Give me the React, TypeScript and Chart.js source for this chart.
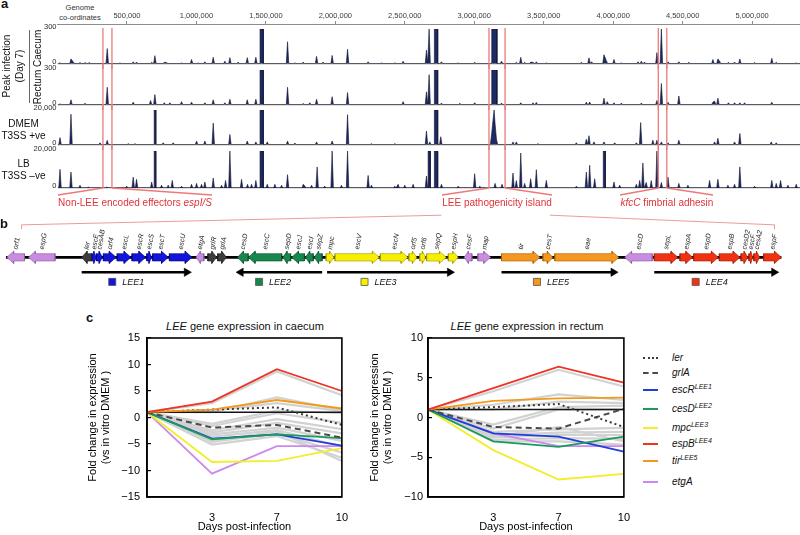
import React, { useEffect, useRef } from 'react';
import { Chart, registerables } from 'chart.js';

Chart.register(...registerables);

const FONT = "'Liberation Sans', Arial, Helvetica, sans-serif";
Chart.defaults.font.family = FONT;
Chart.defaults.color = '#111';

/* ================= Panel a : genome coverage ================= */
const GENOME_LENGTH_KB = 5345;
const genomeTickKb = [500, 1000, 1500, 2000, 2500, 3000, 3500, 4000, 4500, 5000];
const trackMax = [300, 300, 20000, 20000];

// [position kb, coverage]
const caecumPeaks = [
  [18, 6], [97, 40], [114, 12], [162, 8], [198, 8], [229, 8], [358, 130], [450, 5], [545, 15], [569, 12],
  [678, 10], [701, 68], [769, 10], [785, 8], [893, 5], [965, 35], [1013, 5], [1061, 15], [1121, 54], [1205, 20],
  [1241, 51], [1301, 12], [1366, 51], [1428, 54], [1656, 189], [1709, 5], [1769, 12], [1865, 62], [1912, 12], [1977, 70],
  [2088, 124], [2236, 15], [2332, 5], [2428, 5], [2488, 20], [2656, 116], [2675, 300], [2764, 15], [2884, 5], [3003, 10],
  [3196, 20], [3303, 10], [3335, 54], [3363, 10], [3406, 12], [3423, 10], [3447, 15], [3519, 5], [3771, 10], [3826, 49],
  [3845, 15], [3934, 76], [3951, 25], [4006, 35], [4059, 5], [4179, 15], [4203, 20], [4226, 12], [4315, 95], [4347, 300],
  [4395, 15], [4473, 15], [4545, 10], [4718, 35], [4754, 40], [4766, 20], [4830, 10], [4874, 12], [4912, 40], [5018, 8],
  [5142, 45], [5174, 10], [5318, 5],
];
const caecumSaturated = [[1458, 1482], [2713, 2737], [3126, 3164]];

const rectumPeaks = [
  [18, 5], [97, 41], [198, 10], [358, 150], [545, 20], [670, 35], [701, 87], [769, 15], [809, 15], [893, 25],
  [965, 20], [1061, 15], [1121, 41], [1205, 15], [1241, 46], [1366, 41], [1428, 46], [1656, 150], [1769, 8], [1816, 15],
  [1865, 46], [1977, 68], [2088, 104], [2488, 25], [2656, 110], [2675, 259], [2764, 12], [2896, 10], [3003, 15], [3196, 12],
  [3335, 15], [3423, 15], [3447, 18], [3807, 20], [3831, 22], [3934, 55], [3958, 25], [4006, 15], [4059, 12], [4203, 12],
  [4315, 35], [4347, 183], [4395, 20], [4473, 74], [4718, 20], [4730, 30], [4754, 55], [4830, 15], [4874, 15], [4912, 15],
  [4946, 15], [5142, 20],
];
const rectumSaturated = [[1458, 1482], [2713, 2737], [3126, 3164]];

const dmemPeaks = [
  [18, 4000], [97, 17600], [306, 1000], [358, 2400], [510, 500], [558, 500], [761, 1000], [833, 1000], [1001, 2000], [1061, 2000],
  [1121, 12400], [1241, 5800], [1366, 2000], [1428, 1500], [1510, 1500], [1656, 2000], [1709, 800], [1865, 1500], [1977, 2000], [2088, 17300],
  [2260, 500], [2428, 500], [2656, 7800], [2680, 1500], [2759, 4500], [3125, 6000], [3135, 14000], [3143, 20000], [3150, 12000], [3160, 3000],
  [3279, 1500], [3303, 1500], [3459, 500], [3735, 1000], [3807, 3100], [3826, 5100], [3862, 1500], [3934, 1500], [4011, 1000], [4167, 1000],
  [4198, 12700], [4286, 2500], [4315, 2500], [4347, 1500], [4395, 1000], [4473, 2500], [4730, 1500], [4754, 3600], [4874, 1500], [4912, 6400],
  [5138, 1500], [5174, 1000],
];
const dmemSaturated = [[696, 708], [1458, 1482], [2713, 2737]];

const lbPeaks = [
  [18, 10100], [97, 8600], [162, 1500], [222, 500], [354, 500], [498, 1000], [545, 5900], [569, 4700], [678, 3200], [749, 1500],
  [797, 1500], [826, 4100], [893, 1000], [965, 2000], [1001, 2500], [1037, 2000], [1061, 3200], [1121, 5400], [1181, 1500], [1210, 4100],
  [1241, 20000], [1325, 4700], [1368, 2000], [1397, 2000], [1428, 4100], [1510, 2000], [1565, 2000], [1613, 1500], [1656, 7200], [1769, 2000],
  [1781, 1000], [1829, 1500], [1869, 11400], [1924, 1000], [1977, 20000], [2044, 1500], [2088, 20000], [2236, 6800], [2260, 1500], [2428, 1000],
  [2452, 2000], [2500, 1500], [2560, 2000], [2656, 6500], [2764, 2000], [2884, 1000], [3003, 7700], [3040, 1000], [3150, 2500], [3200, 2000],
  [3279, 8100], [3303, 4000], [3335, 18900], [3363, 2500], [3406, 5000], [3447, 9900], [3519, 4100], [3735, 1000], [3807, 8600], [3831, 12300],
  [3867, 5000], [4006, 3200], [4047, 1500], [4167, 2000], [4191, 4100], [4214, 13500], [4238, 3000], [4274, 4000], [4315, 20000], [4347, 3000],
  [4395, 5900], [4473, 2500], [4538, 1500], [4694, 4100], [4754, 4700], [4826, 1500], [4874, 2000], [4912, 11400], [5018, 1000], [5142, 4100],
  [5174, 2500], [5205, 4100], [5258, 1500], [5318, 2000],
];
const lbSaturated = [[696, 708], [1458, 1482], [2668, 2684], [2713, 2737], [3929, 3944]];

const regionStartKb = [327, 3106, 4325];
const regionEndKb = [392, 3222, 4386];

/* ================= Panel b : LEE gene map ================= */
const geneNames = ['orf1', 'espG', 'ler', 'escE', 'cesAB', 'orf4', 'escL', 'escR', 'escS', 'escT', 'escU', 'etgA', 'grlR', 'grlA',
  'cesD', 'escC', 'sepD', 'escJ', 'escI', 'sepZ', 'mpc', 'escV', 'escN', 'orf5', 'orf6', 'sepQ', 'espH', 'cesF', 'map',
  'tir', 'cesT', 'eae', 'escD', 'sepL', 'espA', 'espD', 'espB', 'cesD2', 'escF', 'cesA2', 'espF'];
const geneStart = [1, 23, 77, 87, 92, 99, 113, 128, 143, 149, 166, 193, 205, 215, 235, 246, 281, 290, 304, 313, 325, 334, 380, 409, 420,
  427, 449, 465, 479, 503, 545, 557, 628, 658, 684, 698, 724, 746, 754, 759, 769];
const geneEnd = [19, 50, 87, 92, 98, 112, 127, 142, 148, 165, 189, 201, 214, 224, 246, 280, 289, 303, 312, 321, 333, 379, 408, 417, 426,
  447, 459, 473, 492, 542, 555, 622, 656, 682, 697, 723, 745, 753, 758, 765, 787];
const geneStrand = [-1, -1, -1, 1, 1, 1, 1, 1, 1, 1, 1, -1, 1, 1, -1, -1, -1, -1, -1, -1, 1, 1, 1, 1, 1, 1, 1, -1, 1, 1, 1, 1, -1,
  1, 1, 1, 1, 1, 1, 1, 1];
const geneGroup = ['other', 'other', 'reg', 'LEE1', 'LEE1', 'LEE1', 'LEE1', 'LEE1', 'LEE1', 'LEE1', 'LEE1', 'other', 'reg', 'reg',
  'LEE2', 'LEE2', 'LEE2', 'LEE2', 'LEE2', 'LEE2', 'LEE3', 'LEE3', 'LEE3', 'LEE3', 'LEE3', 'LEE3', 'LEE3', 'other', 'other',
  'LEE5', 'LEE5', 'LEE5', 'other', 'LEE4', 'LEE4', 'LEE4', 'LEE4', 'LEE4', 'LEE4', 'LEE4', 'LEE4'];

const operonNames = ['LEE1', 'LEE2', 'LEE3', 'LEE5', 'LEE4'];
const operonFrom = [77, 321, 326, 503, 658];
const operonTo = [188, 234, 455, 621, 784];

/* ================= Panel c : qPCR fold change ================= */
const dayLabels = ['', '3', '7', '10'];

const caecumLer = [1, 1.5, 1.9, -1.4];
const caecumGrlA = [1, -1.9, -1.4, -3.8];
const caecumEscR = [1, -4.0, -3.2, -5.3];
const caecumCesD = [1, -4.1, -3.2, -3.9];
const caecumMpc = [1, -8.4, -8.2, -5.8];
const caecumEspB = [1, 3.0, 9.1, 5.0];
const caecumTir = [1, 1.5, 3.3, 1.7];
const caecumEtgA = [1, -10.6, -5.4, -5.4];
const caecumOtherGenes = [
  [1, 2.7, 8.7, 4.2], [1, 1.0, 3.8, 1.4], [1, 1.3, 2.7, 1.2], [1, -1.2, 1.3, 0.8], [1, -1.6, 0.8, -1.0],
  [1, -2.4, -0.3, -2.2], [1, -2.8, -1.0, -3.0], [1, -3.2, -1.9, -4.4], [1, -3.6, -2.4, -5.5], [1, -4.6, -3.0, -6.6],
  [1, -5.1, -3.5, -7.6], [1, -4.4, -2.6, -8.2],
];

const rectumLer = [1, 1.3, 1.7, -1.2];
const rectumGrlA = [1, -1.2, -1.4, 1.1];
const rectumEscR = [1, -2.0, -2.4, -4.3];
const rectumCesD = [1, -3.0, -3.7, -2.4];
const rectumMpc = [1, -4.1, -7.8, -7.1];
const rectumEspB = [1, 3.7, 6.4, 4.4];
const rectumTir = [1, 2.1, 2.4, 2.5];
const rectumEtgA = [1, -2.0, -3.6, -3.6];
const rectumOtherGenes = [
  [1, 3.3, 6.0, 3.9], [1, 1.6, 2.9, 2.2], [1, 1.0, 2.0, 1.8], [1, -0.9, 1.3, 1.5], [1, -1.4, 1.0, 1.0],
  [1, -1.8, -1.5, -1.3], [1, -2.2, -1.9, -1.8], [1, -2.5, -2.2, -2.2], [1, -2.8, -2.6, -2.7], [1, -3.0, -3.0, -3.4],
  [1, -2.4, -1.2, -3.0],
];
const noChange = [1, 1, 1, 1];

/* ================= styles ================= */
const NAVY = 'rgb(30,42,98)';
const NAVY_EDGE = 'rgb(14,18,48)';
const RED_LINE = 'rgb(236,122,122)';
const RED_TEXT = 'rgb(222,52,56)';

const groupFill: Record<string, string> = {
  other: '#c98ce0', reg: '#3d3d3d', LEE1: '#1313dc', LEE2: '#17874c', LEE3: '#f6f000', LEE5: '#f5961e', LEE4: '#f03212',
};
const groupEdge: Record<string, string> = {
  other: '#8a5a9c', reg: '#1c1c1c', LEE1: '#05057a', LEE2: '#0b4a2a', LEE3: '#9c9600', LEE5: '#a55c00', LEE4: '#9c1c05',
};
const operonFill = ['#1313dc', '#17874c', '#f6f000', '#f5961e', '#f03212'];
const operonLegendX = [108, 257, 364, 539, 700];

const exprStyles = [
  { name: 'espB', color: '#ee3322', dash: [] as number[], width: 1.8 },
  { name: 'tir', color: '#f39a1e', dash: [], width: 1.8 },
  { name: 'ler', color: '#3a3a3a', dash: [2, 3], width: 2 },
  { name: 'grlA', color: '#4a4a4a', dash: [6, 4], width: 2 },
  { name: 'cesD', color: '#1a9a5c', dash: [], width: 1.8 },
  { name: 'escR', color: '#1f3fd8', dash: [], width: 1.8 },
  { name: 'mpc', color: '#f2ee2a', dash: [], width: 1.8 },
  { name: 'etgA', color: '#cc88ee', dash: [], width: 1.8 },
];

const common = {
  animation: false,
  responsive: false,
  maintainAspectRatio: false,
  events: [] as string[],
};
const noLegend = { legend: { display: false }, tooltip: { enabled: false }, title: { display: false } };

/* ================= builders ================= */
function buildProfile(peaks: number[][], saturated: number[][], max: number) {
  const HW = 9;
  const shapes: { x: number; y: number }[][] = [];
  for (const [kb, v] of peaks) shapes.push([{ x: kb - HW, y: 0 }, { x: kb, y: Math.min(v, max) }, { x: kb + HW, y: 0 }]);
  for (const [s, e] of saturated) shapes.push([{ x: s, y: 0 }, { x: s, y: max }, { x: e, y: max }, { x: e, y: 0 }]);
  shapes.sort((a, b) => a[1].x - b[1].x);
  const out = [{ x: 0, y: 0 }];
  for (const sh of shapes) {
    let pts = sh;
    const last = out[out.length - 1];
    if (pts[0].x <= last.x) {
      if (last.y === 0 && out.length > 1) out.pop();
      pts = pts.slice(1);
      while (pts.length && pts[0].x <= out[out.length - 1].x) pts = pts.slice(1);
    }
    out.push(...pts);
  }
  out.push({ x: GENOME_LENGTH_KB, y: 0 });
  return out;
}

function genePolygon(s: number, e: number, strand: number) {
  const h = 4.2, H = 7;
  const L = Math.min(7, (e - s) * 0.55);
  if (strand > 0) {
    return [{ x: s, y: -h }, { x: e - L, y: -h }, { x: e - L, y: -H }, { x: e, y: 0 }, { x: e - L, y: H }, { x: e - L, y: h }, { x: s, y: h }, { x: s, y: -h }];
  }
  return [{ x: e, y: -h }, { x: s + L, y: -h }, { x: s + L, y: -H }, { x: s, y: 0 }, { x: s + L, y: H }, { x: s + L, y: h }, { x: e, y: h }, { x: e, y: -h }];
}

/* ================= chart configs ================= */
function axisConfig() {
  return {
    type: 'line',
    data: { datasets: [] },
    options: {
      ...common,
      plugins: noLegend,
      layout: { padding: { left: 57.5, right: 0, top: 0, bottom: 0 } },
      scales: {
        x: {
          type: 'linear', position: 'top', min: 0, max: GENOME_LENGTH_KB,
          afterBuildTicks: (s: any) => { s.ticks = genomeTickKb.map((v) => ({ value: v })); },
          afterFit: (s: any) => { s.height = 24; },
          ticks: { callback: (v: any) => (Number(v) * 1000).toLocaleString('en-US'), font: { size: 7.5 }, color: '#3a3a3a', padding: 1, maxRotation: 0, autoSkip: false },
          grid: { drawOnChartArea: false, tickLength: 3, color: '#8c8c8c', lineWidth: 1 },
          border: { color: '#8c8c8c', width: 1 },
        },
        y: { display: false },
      },
    },
  };
}

const bracketLabelEnds = [[58, 212], [442, 552], [620, 713]];

function trackConfig(i: number) {
  const peaks = [caecumPeaks, rectumPeaks, dmemPeaks, lbPeaks][i];
  const sat = [caecumSaturated, rectumSaturated, dmemSaturated, lbSaturated][i];
  const max = trackMax[i];
  const regionPlugin = {
    id: 'regions' + i,
    afterDatasetsDraw(chart: any) {
      const { ctx, chartArea } = chart;
      const x = chart.scales.x;
      const y0 = i === 0 ? chartArea.top - 1 : 0;
      const y1 = i === 3 ? chartArea.bottom : chart.height;
      ctx.save();
      ctx.strokeStyle = RED_LINE;
      ctx.lineWidth = 1.3;
      for (let r = 0; r < regionStartKb.length; r++) {
        const ps = x.getPixelForValue(regionStartKb[r]);
        const pe = x.getPixelForValue(regionEndKb[r]);
        ctx.beginPath();
        ctx.moveTo(ps, y0); ctx.lineTo(ps, y1);
        ctx.moveTo(pe, y0); ctx.lineTo(pe, y1);
        ctx.stroke();
        if (i === 3) {
          const yb = chartArea.bottom;
          ctx.beginPath();
          ctx.moveTo(ps, yb); ctx.lineTo(bracketLabelEnds[r][0], yb + 7);
          ctx.moveTo(pe, yb); ctx.lineTo(bracketLabelEnds[r][1], yb + 7);
          ctx.stroke();
        }
      }
      ctx.restore();
    },
  };
  return {
    type: 'line',
    data: {
      datasets: [{
        data: buildProfile(peaks, sat, max), fill: 'origin', backgroundColor: NAVY, borderColor: NAVY_EDGE,
        borderWidth: 0.6, pointRadius: 0, tension: 0,
      }],
    },
    options: {
      ...common,
      plugins: noLegend,
      layout: { padding: { top: 6, bottom: i === 3 ? 12 : 3, left: 0, right: 0 } },
      scales: {
        x: { type: 'linear', min: 0, max: GENOME_LENGTH_KB, display: false },
        y: {
          min: 0, max,
          afterBuildTicks: (s: any) => { s.ticks = [{ value: 0 }, { value: max }]; },
          afterFit: (s: any) => { s.width = 57.5; },
          ticks: { callback: (v: any) => Number(v).toLocaleString('en-US'), font: { size: 7.5 }, color: '#2a2a2a', padding: 1, labelOffset: -2 },
          grid: { drawTicks: false, lineWidth: 1.2, color: (c: any) => (c.tick && c.tick.value === 0 ? '#7a7a7a' : 'rgba(0,0,0,0)') },
          border: { display: false },
        },
      },
    },
    plugins: [regionPlugin],
  };
}

function geneConfig() {
  const datasets: any[] = [];
  geneNames.forEach((n, i) => {
    datasets.push({
      label: n, data: genePolygon(geneStart[i], geneEnd[i], geneStrand[i]), fill: 'shape',
      backgroundColor: groupFill[geneGroup[i]], borderColor: groupEdge[geneGroup[i]], borderWidth: 0.6, pointRadius: 0, tension: 0,
    });
  });
  operonNames.forEach((n, i) => {
    const dir = operonTo[i] > operonFrom[i] ? 1 : -1;
    datasets.push({
      label: n, data: [{ x: operonFrom[i], y: -17 }, { x: operonTo[i] - dir * 4.5, y: -17 }],
      borderColor: '#000', borderWidth: 2.6, pointRadius: [0, 4.8], pointStyle: 'triangle',
      pointRotation: [0, dir > 0 ? 90 : -90], pointBackgroundColor: '#000', pointBorderColor: '#000', pointBorderWidth: 0.5,
    });
    datasets.push({
      label: n + ' key', data: [{ x: operonLegendX[i], y: -28 }], showLine: false, pointStyle: 'rect', pointRadius: 5,
      pointBackgroundColor: operonFill[i], pointBorderColor: '#555', pointBorderWidth: 0.8,
    });
  });
  datasets.push({
    label: 'backbone', data: [{ x: 0, y: 0 }, { x: geneEnd[geneEnd.length - 1], y: 0 }],
    borderColor: '#000', borderWidth: 2.6, pointRadius: 0,
  });
  const labelPlugin = {
    id: 'geneLabels',
    afterDatasetsDraw(chart: any) {
      const { ctx } = chart;
      const x = chart.scales.x;
      const y = chart.scales.y;
      ctx.save();
      ctx.fillStyle = '#222';
      ctx.font = `italic 7px ${FONT}`;
      ctx.textAlign = 'left';
      ctx.textBaseline = 'middle';
      geneNames.forEach((n, i) => {
        const cx = x.getPixelForValue((geneStart[i] + geneEnd[i]) / 2);
        const cy = y.getPixelForValue(9);
        ctx.save();
        ctx.translate(cx, cy);
        ctx.rotate((-80 * Math.PI) / 180);
        ctx.fillText(n, 0, 0);
        ctx.restore();
      });
      ctx.font = `italic 9px ${FONT}`;
      ctx.fillStyle = '#111';
      operonNames.forEach((n, i) => {
        ctx.fillText(n, x.getPixelForValue(operonLegendX[i]) + 10, y.getPixelForValue(-28) + 0.5);
      });
      // connector from the "LEE pathogenicity island" label down to the gene map ends
      ctx.strokeStyle = 'rgba(232,120,120,0.75)';
      ctx.lineWidth = 1;
      const yTop = y.getPixelForValue(48);
      const yEnd = y.getPixelForValue(37);
      const yTick = y.getPixelForValue(32);
      const lx = x.getPixelForValue(16);
      const rx = x.getPixelForValue(780);
      ctx.beginPath();
      ctx.moveTo(x.getPixelForValue(442), yTop); ctx.lineTo(lx, yEnd); ctx.lineTo(lx, yTick);
      ctx.moveTo(x.getPixelForValue(552), yTop); ctx.lineTo(rx, yEnd); ctx.lineTo(rx, yTick);
      ctx.stroke();
      ctx.restore();
    },
  };
  return {
    type: 'line',
    data: { datasets },
    options: {
      ...common,
      plugins: noLegend,
      layout: { padding: 0 },
      scales: {
        x: { type: 'linear', min: 0, max: 800, display: false },
        y: { type: 'linear', min: -42, max: 53, display: false },
      },
    },
    plugins: [labelPlugin],
  };
}

const framePlugin = {
  id: 'frame',
  afterDatasetsDraw(chart: any) {
    const { ctx, chartArea: a } = chart;
    ctx.save();
    ctx.strokeStyle = '#000';
    ctx.lineWidth = 1.6;
    ctx.strokeRect(a.left, a.top, a.right - a.left, a.bottom - a.top);
    ctx.restore();
  },
};

function exprConfig(which: number) {
  const c = which === 0;
  const main = c
    ? [caecumEspB, caecumTir, caecumLer, caecumGrlA, caecumCesD, caecumEscR, caecumMpc, caecumEtgA]
    : [rectumEspB, rectumTir, rectumLer, rectumGrlA, rectumCesD, rectumEscR, rectumMpc, rectumEtgA];
  const others = c ? caecumOtherGenes : rectumOtherGenes;
  const datasets: any[] = main.map((d, i) => ({
    label: exprStyles[i].name, data: d, borderColor: exprStyles[i].color, borderDash: exprStyles[i].dash,
    borderWidth: exprStyles[i].width, pointRadius: 0, tension: 0, fill: false,
  }));
  datasets.push({ label: 'no change', data: noChange, borderColor: '#141414', borderWidth: 1.5, pointRadius: 0, fill: false });
  others.forEach((d, i) => datasets.push({ label: 'other ' + i, data: d, borderColor: '#d2d2d2', borderWidth: 2.2, pointRadius: 0, fill: false }));
  const yTicks = c ? [-15, -10, -5, 0, 5, 10, 15] : [-10, -5, 0, 5, 10];
  return {
    type: 'line',
    data: { labels: dayLabels, datasets },
    options: {
      ...common,
      plugins: noLegend,
      layout: { padding: { top: 20, right: c ? 11 : 10, left: 0, bottom: 0 } },
      scales: {
        x: {
          type: 'category', offset: false,
          grid: { display: false },
          border: { display: true, color: '#000', width: 1.6 },
          ticks: { font: { size: 11 }, color: '#000', padding: 6, maxRotation: 0, autoSkip: false },
          title: { display: true, text: 'Days post-infection', font: { size: 11 }, color: '#000', padding: { top: 0, bottom: 1 } },
          afterFit: (s: any) => { s.height = 38; },
        },
        y: {
          min: yTicks[0], max: yTicks[yTicks.length - 1],
          afterBuildTicks: (s: any) => { s.ticks = yTicks.map((v) => ({ value: v })); },
          ticks: { font: { size: 11 }, color: '#000', padding: c ? 11 : 9, callback: (v: any) => (v < 0 ? '\u2212' + Math.abs(v) : String(v)) },
          grid: { drawOnChartArea: false, tickLength: -4, color: '#000', lineWidth: 1.2 },
          border: { color: '#000', width: 1.6 },
          title: { display: true, text: ['Fold change in expression', '(vs in vitro DMEM )'], font: { size: 11 }, color: '#000', padding: { top: 1, bottom: 0 } },
          afterFit: (s: any) => { s.width = c ? 62 : 61; },
        },
      },
    },
    plugins: [framePlugin],
  };
}

/* ================= components ================= */
function ChartBox({ x, y, w, h, make }: { x: number; y: number; w: number; h: number; make: () => any }) {
  const ref = useRef<HTMLCanvasElement | null>(null);
  useEffect(() => {
    if (!ref.current) return;
    const chart = new Chart(ref.current, make());
    return () => chart.destroy();
  }, []);
  return <canvas ref={ref} width={w} height={h} style={{ position: 'absolute', left: x, top: y, width: w, height: h }} />;
}

function Txt({ x, y, size = 10, anchor = 'center', rotate = 0, style, children }: any) {
  const tx = anchor === 'center' ? '-50%' : anchor === 'left' ? '0' : '-100%';
  return (
    <div
      style={{
        position: 'absolute', left: x, top: y, fontSize: size, lineHeight: `${Math.round(size * 1.2)}px`, whiteSpace: 'nowrap',
        transform: `translate(${tx}, -50%)${rotate ? ` rotate(${rotate}deg)` : ''}`, transformOrigin: anchor === 'center' ? '50% 50%' : '0 50%',
        fontFamily: FONT, color: '#111', ...style,
      }}
    >
      {children}
    </div>
  );
}

const legendRows = [
  { name: 'ler', sup: '', y: 358, line: '2.5px dotted #3a3a3a' },
  { name: 'grlA', sup: '', y: 373, line: '2.5px dashed #4a4a4a' },
  { name: 'escR', sup: 'LEE1', y: 390, line: '2px solid #1f3fd8' },
  { name: 'cesD', sup: 'LEE2', y: 409, line: '2px solid #1a9a5c' },
  { name: 'mpc', sup: 'LEE3', y: 428, line: '2px solid #f2ee2a' },
  { name: 'espB', sup: 'LEE4', y: 443.5, line: '2px solid #ee3322' },
  { name: 'tir', sup: 'LEE5', y: 461, line: '2px solid #f39a1e' },
  { name: 'etgA', sup: '', y: 481.5, line: '2px solid #cc88ee' },
];

const trackAreaTop = [29, 70, 110, 151];

export default function App() {
  return (
    <div style={{ position: 'absolute', left: 0, top: 0, width: 800, height: 535, background: '#fff', overflow: 'hidden', fontFamily: FONT }}>
      {/* panel a */}
      <Txt x={1} y={3.5} size={13} anchor="left" style={{ fontWeight: 'bold' }}>a</Txt>
      <Txt x={80} y={7} size={7.5} style={{ color: '#333' }}>Genome</Txt>
      <Txt x={80} y={17} size={7.5} style={{ color: '#333' }}>co-ordinates</Txt>
      <ChartBox x={0} y={0} w={800} h={30} make={axisConfig} />
      {[0, 1, 2, 3].map((i) => (
        <ChartBox key={i} x={0} y={trackAreaTop[i] - 6} w={800} h={i === 3 ? 55 : 46} make={() => trackConfig(i)} />
      ))}
      <Txt x={12.5} y={66} size={10} rotate={-90} style={{ textAlign: 'center', lineHeight: '13px' }}>
        Peak infection<br />(Day 7)
      </Txt>
      <div style={{ position: 'absolute', left: 29, top: 30, width: 0, height: 73, borderLeft: '1px solid #6a6a6a' }} />
      <Txt x={38} y={67} size={10} rotate={-90}>Rectum Caecum</Txt>
      <Txt x={23.5} y={129.5} size={10} style={{ textAlign: 'center', lineHeight: '12px' }}>DMEM<br />T3SS +ve</Txt>
      <Txt x={23.5} y={169.5} size={10} style={{ textAlign: 'center', lineHeight: '12px' }}>LB<br />T3SS –ve</Txt>
      <Txt x={135} y={203} size={10} style={{ color: RED_TEXT }}>Non-LEE encoded effectors <i>espI/S</i></Txt>
      <Txt x={497} y={203} size={10} style={{ color: RED_TEXT }}>LEE pathogenicity island</Txt>
      <Txt x={667} y={203} size={10} style={{ color: RED_TEXT }}><i>kfcC</i> fimbrial adhesin</Txt>

      {/* panel b */}
      <Txt x={0} y={224} size={13} anchor="left" style={{ fontWeight: 'bold' }}>b</Txt>
      <ChartBox x={0} y={205} w={800} h={95} make={geneConfig} />

      {/* panel c */}
      <Txt x={86} y={318} size={13} anchor="left" style={{ fontWeight: 'bold' }}>c</Txt>
      <Txt x={245} y={326} size={11}><i>LEE</i> gene expression in caecum</Txt>
      <Txt x={527} y={326} size={11}><i>LEE</i> gene expression in rectum</Txt>
      <ChartBox x={85} y={318} w={269} h={217} make={() => exprConfig(0)} />
      <ChartBox x={367} y={318} w={269} h={217} make={() => exprConfig(1)} />
      {legendRows.map((r) => (
        <React.Fragment key={r.name}>
          <div style={{ position: 'absolute', left: 643, top: r.y - 1, width: 15, height: 0, borderTop: r.line }} />
          <Txt x={672} y={r.y} size={10} anchor="left">
            <i>{r.name}</i>
            {r.sup ? <sup style={{ fontSize: 7, fontStyle: 'italic', verticalAlign: 'top', position: 'relative', top: -3 }}>{r.sup}</sup> : null}
          </Txt>
        </React.Fragment>
      ))}
    </div>
  );
}
